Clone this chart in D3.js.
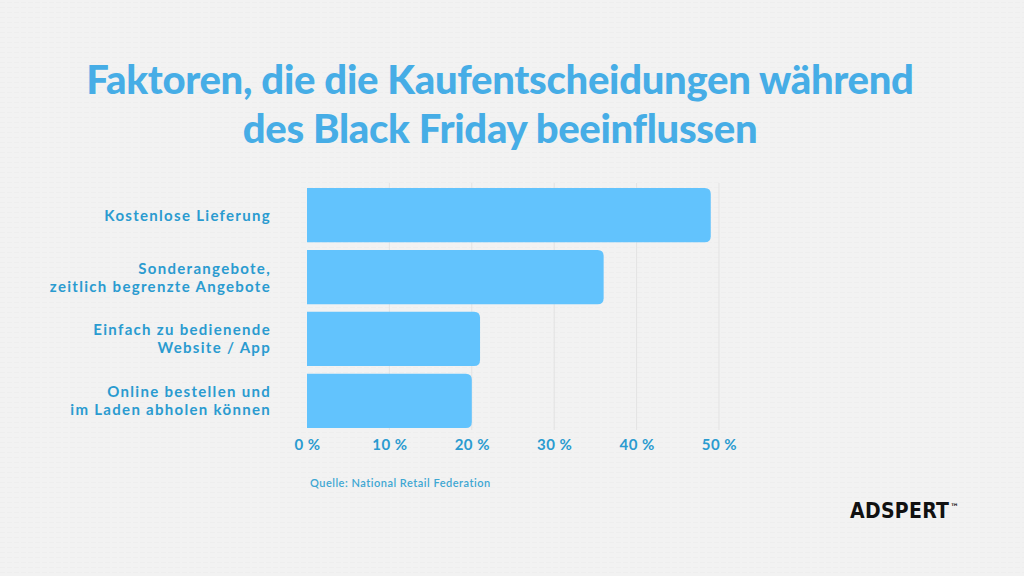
<!DOCTYPE html>
<html>
<head>
<meta charset="utf-8">
<script src="https://cdn.jsdelivr.net/npm/d3@7"></script>
<style>
  html, body { margin: 0; padding: 0; background: #f2f2f2; }
  svg { display: block; }
</style>
</head>
<body>
<svg id="chart" width="1024" height="576"></svg>
<script>
const titleLines = ["Faktoren, die die Kaufentscheidungen während", "des Black Friday beeinflussen"];
const categories = [
  ["Kostenlose Lieferung"],
  ["Sonderangebote,", "zeitlich begrenzte Angebote"],
  ["Einfach zu bedienende", "Website / App"],
  ["Online bestellen und", "im Laden abholen können"]
];
const values = [49, 36, 21, 20];
const tickValues = [0, 10, 20, 30, 40, 50];
const sourceText = "Quelle: National Retail Federation";
const brandText = "ADSPERT";

const svg = d3.select("#chart");
const W = 1024, H = 576;

// background with faint texture
const defs = svg.append("defs");
const pat = defs.append("pattern").attr("id", "tex").attr("width", 7).attr("height", 5).attr("patternUnits", "userSpaceOnUse");
pat.append("rect").attr("width", 7).attr("height", 5).attr("fill", "#f2f2f2");
pat.append("rect").attr("y", 2).attr("width", 5).attr("height", 1).attr("fill", "#eeeeee");
svg.append("rect").attr("width", W).attr("height", H).attr("fill", "url(#tex)");

// title
const title = svg.append("g").attr("font-family", "Lato, 'Open Sans', sans-serif")
  .attr("font-weight", 900).attr("fill", "#46ade6").attr("text-anchor", "middle");
titleLines.forEach((t, i) => {
  title.append("text").attr("x", 500).attr("y", 94 + i * 49)
    .attr("font-size", 40).attr("letter-spacing", -0.3).text(t);
});

const x = d3.scaleLinear().domain([0, 50]).range([307, 719]);
const y = d3.scaleBand().domain(d3.range(categories.length)).range([188, 428]).paddingInner(0.125).paddingOuter(0);

// gridlines
svg.append("g").selectAll("line").data(tickValues.slice(1)).join("line")
  .attr("x1", d => x(d)).attr("x2", d => x(d))
  .attr("y1", 183).attr("y2", 430)
  .attr("stroke", "#e3e3e3").attr("stroke-width", 1);

// bars, rounded on right end only
const r = 6;
svg.append("g").selectAll("path").data(values).join("path")
  .attr("fill", "#62c3fd")
  .attr("d", (d, i) => {
    const x0 = x(0), x1 = x(d), y0 = y(i), h = y.bandwidth();
    return `M${x0},${y0}H${x1 - r}Q${x1},${y0} ${x1},${y0 + r}V${y0 + h - r}Q${x1},${y0 + h} ${x1 - r},${y0 + h}H${x0}Z`;
  });

// category labels
const lab = svg.append("g").attr("font-family", "Lato, sans-serif").attr("font-weight", 700)
  .attr("font-size", 15).attr("fill", "#2a9bd0").attr("text-anchor", "end").attr("letter-spacing", 1.3);
categories.forEach((lines, i) => {
  const cy = y(i) + y.bandwidth() / 2;
  const n = lines.length;
  lines.forEach((t, j) => {
    lab.append("text").attr("x", 271)
      .attr("y", cy + (j - (n - 1) / 2) * 18 + 5.5)
      .text(t);
  });
});

// x axis
const axis = d3.axisBottom(x).tickValues(tickValues).tickFormat(d => d + " %").tickSize(0).tickPadding(0);
const ax = svg.append("g").attr("transform", "translate(0,439)").call(axis);
ax.select(".domain").remove();
ax.selectAll("text").attr("font-family", "Lato, sans-serif").attr("font-weight", 700)
  .attr("font-size", 15).attr("fill", "#2a9bd0").attr("letter-spacing", 0.5).attr("dy", "0.72em");

// source
svg.append("text").attr("x", 310).attr("y", 487).attr("font-family", "Lato, sans-serif")
  .attr("font-weight", 600).attr("font-size", 11).attr("fill", "#3ea7d2").attr("letter-spacing", 0.5)
  .text(sourceText);

// brand
const brand = svg.append("text").attr("x", 850).attr("y", 518)
  .attr("font-family", "'DejaVu Sans Condensed', 'Liberation Sans Narrow', sans-serif")
  .attr("font-weight", 700).attr("font-size", 21).attr("fill", "#111").attr("letter-spacing", 0.3);
brand.append("tspan").text(brandText);
brand.append("tspan").attr("font-size", 9).attr("dy", -8).attr("dx", 1).text("™");
</script>
</body>
</html>
